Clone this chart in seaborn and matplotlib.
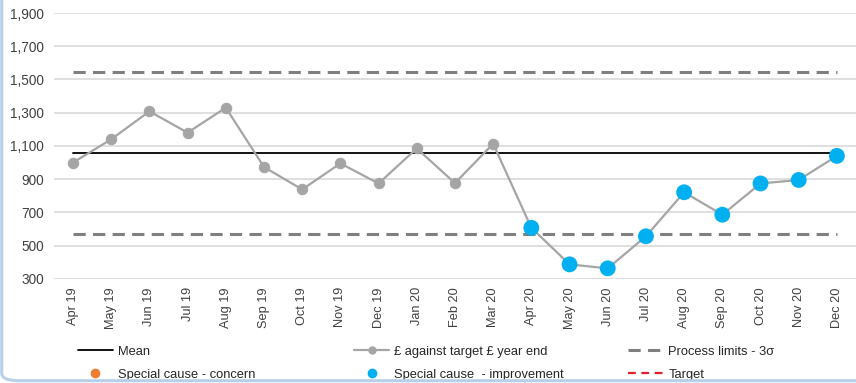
import matplotlib
matplotlib.use("Agg")
import matplotlib.pyplot as plt
import seaborn as sns
import pandas as pd
from matplotlib.lines import Line2D
from matplotlib.patches import FancyBboxPatch

months = ["Apr 19", "May 19", "Jun 19", "Jul 19", "Aug 19", "Sep 19", "Oct 19",
          "Nov 19", "Dec 19", "Jan 20", "Feb 20", "Mar 20", "Apr 20", "May 20",
          "Jun 20", "Jul 20", "Aug 20", "Sep 20", "Oct 20", "Nov 20", "Dec 20"]
values = [1000, 1140, 1308, 1180, 1330, 973, 838, 995, 874, 1085, 876, 1113,
          607, 387, 363, 556, 821, 686, 874, 895, 1040]
improvement = [False] * 12 + [True] * 9
mean_value = 1055
upper_limit = 1546
lower_limit = 572
y_ticks = [300, 500, 700, 900, 1100, 1300, 1500, 1700, 1900]

sns.set_theme(style="white")
plt.rcParams["font.family"] = ["Liberation Sans", "DejaVu Sans"]

df = pd.DataFrame({"month": months, "value": values, "improvement": improvement})
df["mean"] = mean_value
df["upper"] = upper_limit
df["lower"] = lower_limit

fig = plt.figure(figsize=(8.56, 3.83), dpi=100)
ax = fig.add_axes([0.063, 0.272, 0.937, 0.694])

grey = "#a5a5a5"
blue = "#00b0f0"

for v in y_ticks:
    ax.axhline(v, color="#d9d9d9", lw=1.2, zorder=0)

sns.lineplot(data=df, x="month", y="mean", ax=ax, color="black", lw=1.3, sort=False, zorder=2)
for col in ["upper", "lower"]:
    sns.lineplot(data=df, x="month", y=col, ax=ax, color="#7f7f7f", lw=2.2,
                 sort=False, zorder=2, dashes=False).lines[-1].set_dashes((4, 2.4))
sns.lineplot(data=df, x="month", y="value", ax=ax, color=grey, lw=1.6, sort=False,
             marker="o", markersize=7.5, markeredgecolor=grey, markerfacecolor=grey, zorder=3)
sns.scatterplot(data=df[df["improvement"]], x="month", y="value", ax=ax, color=blue,
                s=130, edgecolor="none", zorder=4)

ax.set_xlim(-0.5, len(months) - 0.5)
ax.set_ylim(300, 1900)
ax.set_yticks(y_ticks)
ax.set_yticklabels([f"{v:,}" for v in y_ticks])
ax.set_xlabel("")
ax.set_ylabel("")
for s in ax.spines.values():
    s.set_visible(False)
ax.tick_params(axis="x", rotation=90, labelsize=9.2, colors="#404040", length=0, pad=6)
ax.tick_params(axis="y", labelsize=9.8, colors="#404040", length=0, pad=7)

kw = dict(loc="upper left", frameon=False, fontsize=9.3, handlelength=2.7,
          handletextpad=0.4, labelspacing=0.85, borderpad=0, borderaxespad=0)
legend_cols = [
    ([Line2D([], [], color="black", lw=1.3),
      Line2D([], [], ls="none", marker="o", color="#ed7d31", markersize=6)],
     ["Mean", "Special cause - concern"], 0.091),
    ([Line2D([], [], color=grey, lw=1.6, marker="o", markersize=5),
      Line2D([], [], ls="none", marker="o", color=blue, markersize=6)],
     ["£ against target £ year end", "Special cause  - improvement"], 0.414),
    ([Line2D([], [], color="#7f7f7f", lw=2.2, dashes=(4, 2.4)),
      Line2D([], [], color="#e0202a", lw=1.6, dashes=(3.5, 2.5))],
     ["Process limits - 3σ", "Target"], 0.734),
]
for handles, labels, x in legend_cols:
    leg = fig.legend(handles, labels, bbox_to_anchor=(x, 0.098), **kw)
    for t in leg.get_texts():
        t.set_color("#262626")

border = FancyBboxPatch((0.002, 0.006), 1.2, 1.2, boxstyle="round,pad=0,rounding_size=0.02",
                        transform=fig.transFigure, facecolor="none", edgecolor="#b7d0ea",
                        lw=2.2, zorder=10)
fig.patches.append(border)

fig.savefig("out.png", dpi=100)
